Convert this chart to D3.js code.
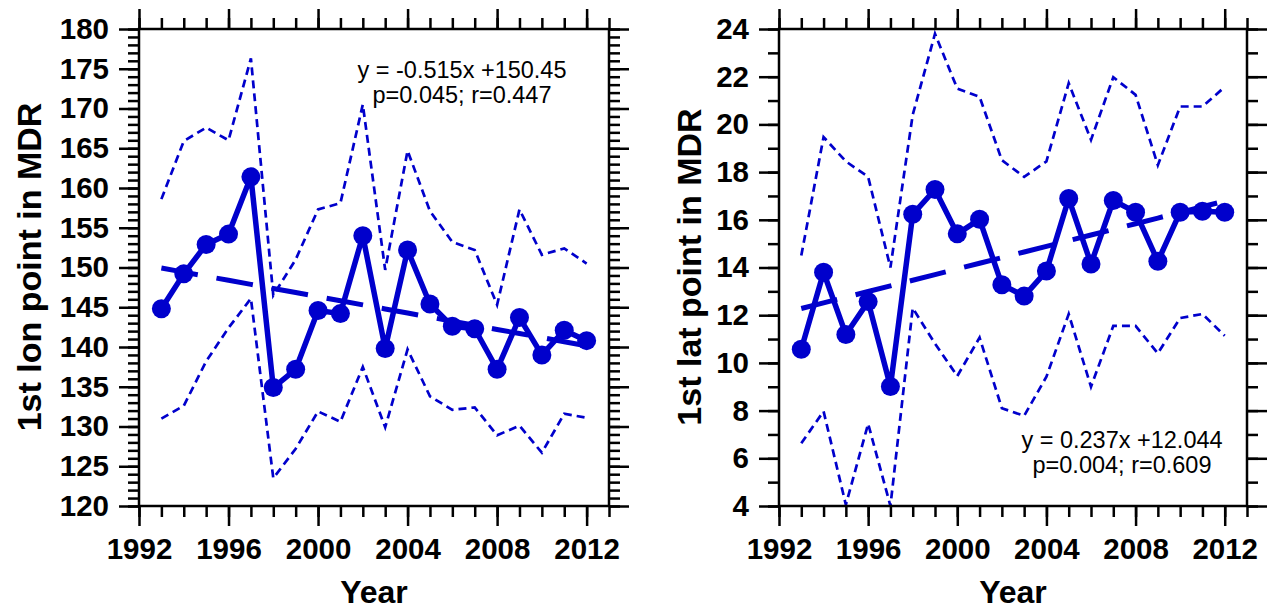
<!DOCTYPE html>
<html>
<head>
<meta charset="utf-8">
<title>1st point in MDR</title>
<style>
  body { margin: 0; background: #fff; }
  svg { display: block; font-family: "Liberation Sans", Arial, Helvetica, sans-serif; }
</style>
</head>
<body>
<svg width="1276" height="613"></svg>
<script src="https://cdnjs.cloudflare.com/ajax/libs/d3/7.8.5/d3.min.js"></script>
<script>
// years 1993-2012
var years = d3.range(1993, 2013);

// left panel: first longitude point
var lonMean  = [144.8, 149.2, 152.9, 154.2, 161.4, 134.9, 137.2, 144.6, 144.2, 154.0,
                139.8, 152.2, 145.4, 142.6, 142.3, 137.2, 143.7, 139.0, 142.1, 140.8];
var lonUpper = [158.6, 165.9, 167.6, 166.0, 176.3, 146.5, 151.0, 157.3, 158.1, 170.5,
                149.7, 164.7, 157.1, 153.2, 152.2, 145.3, 157.3, 151.6, 152.4, 150.5];
var lonLower = [131.0, 132.6, 138.2, 142.4, 146.1, 123.5, 127.2, 131.9, 130.6, 137.5,
                129.9, 139.7, 133.8, 132.1, 132.4, 128.9, 130.1, 126.7, 131.6, 131.1];
var lonFit = { slope: -0.515, intercept: 150.45 };
var lonText = ["y = -0.515x +150.45", "p=0.045; r=0.447"];

// right panel: first latitude point
var latMean  = [10.57, 13.8, 11.19, 12.57, 9.01, 16.23, 17.27, 15.41, 16.02, 13.28,
                12.8, 13.85, 16.89, 14.15, 16.81, 16.32, 14.26, 16.32, 16.36, 16.32];
var latUpper = [14.5, 19.47, 18.45, 17.8, 14.0, 20.4, 23.8, 21.5, 21.16, 18.5,
                17.8, 18.45, 21.73, 19.35, 21.98, 21.24, 18.29, 20.75, 20.75, 21.57];
var latLower = [6.63, 7.97, 4.05, 7.45, 4.0, 12.3, 10.81, 9.45, 11.06, 8.1,
                7.78, 9.42, 12.05, 9.0, 11.55, 11.55, 10.4, 11.88, 12.05, 11.14];
var latFit = { slope: 0.237, intercept: 12.044 };
var latText = ["y = 0.237x +12.044", "p=0.004; r=0.609"];

var xTicks = [1992, 1996, 2000, 2004, 2008, 2012];

var blue = "#0000cc";
var svg = d3.select("svg");

function panel(opt) {
  var x = d3.scaleLinear().domain([1992, 2013]).range([opt.left, opt.right]);
  var y = d3.scaleLinear().domain(opt.yDomain).range([opt.bottom, opt.top]);
  var g = svg.append("g");

  var minorX = d3.range(1992, 2014);
  var minorY = d3.range(opt.yDomain[0], opt.yDomain[1] + 1, opt.yMinor);

  function styleAxis(sel) {
    sel.select(".domain").remove();
    sel.selectAll(".tick line").attr("stroke", "#000").attr("stroke-width", 2.5);
    sel.selectAll(".tick text")
      .attr("fill", "#000")
      .style("font-size", "29.5px")
      .style("font-weight", "bold");
  }

  // minor ticks, four sides
  g.append("g").attr("transform", "translate(0," + opt.bottom + ")")
    .call(d3.axisBottom(x).tickValues(minorX).tickSize(11).tickFormat("")).call(styleAxis);
  g.append("g").attr("transform", "translate(0," + opt.top + ")")
    .call(d3.axisTop(x).tickValues(minorX).tickSize(11).tickFormat("")).call(styleAxis);
  g.append("g").attr("transform", "translate(" + opt.left + ",0)")
    .call(d3.axisLeft(y).tickValues(minorY).tickSize(11).tickFormat("")).call(styleAxis);
  g.append("g").attr("transform", "translate(" + opt.right + ",0)")
    .call(d3.axisRight(y).tickValues(minorY).tickSize(11).tickFormat("")).call(styleAxis);

  // major ticks
  g.append("g").attr("transform", "translate(0," + opt.bottom + ")")
    .call(d3.axisBottom(x).tickValues(xTicks).tickSize(20).tickPadding(12).tickFormat(d3.format("d")))
    .call(styleAxis);
  g.append("g").attr("transform", "translate(0," + opt.top + ")")
    .call(d3.axisTop(x).tickValues(xTicks).tickSize(20).tickFormat("")).call(styleAxis);
  g.append("g").attr("transform", "translate(" + opt.left + ",0)")
    .call(d3.axisLeft(y).tickValues(opt.yTicks).tickSize(20).tickPadding(10).tickFormat(d3.format("d")))
    .call(styleAxis);
  g.append("g").attr("transform", "translate(" + opt.right + ",0)")
    .call(d3.axisRight(y).tickValues(opt.yTicks).tickSize(20).tickFormat("")).call(styleAxis);

  // clip so dashed envelope stays in the box
  var clipId = "clip" + opt.left;
  g.append("clipPath").attr("id", clipId).append("rect")
    .attr("x", opt.left).attr("y", opt.top)
    .attr("width", opt.right - opt.left).attr("height", opt.bottom - opt.top);

  var plot = g.append("g").attr("clip-path", "url(#" + clipId + ")");
  var line = d3.line().x(function(d, i) { return x(years[i]); }).y(function(d) { return y(d); });

  [opt.upper, opt.lower].forEach(function(s) {
    plot.append("path").datum(s)
      .attr("d", line)
      .attr("fill", "none")
      .attr("stroke", blue)
      .attr("stroke-width", 2.7)
      .attr("stroke-dasharray", "8,5");
  });

  // trend line, x counted 1..20
  var fit = years.map(function(yr, i) { return opt.fit.slope * (i + 1) + opt.fit.intercept; });
  plot.append("path").datum(fit)
    .attr("d", line)
    .attr("fill", "none")
    .attr("stroke", blue)
    .attr("stroke-width", 5)
    .attr("stroke-dasharray", "37,19");

  plot.append("path").datum(opt.mean)
    .attr("d", line)
    .attr("fill", "none")
    .attr("stroke", blue)
    .attr("stroke-width", 5.5)
    .attr("stroke-linejoin", "round");

  plot.selectAll("circle").data(opt.mean).enter().append("circle")
    .attr("cx", function(d, i) { return x(years[i]); })
    .attr("cy", function(d) { return y(d); })
    .attr("r", 9.5)
    .attr("fill", blue);

  // frame
  g.append("rect")
    .attr("x", opt.left).attr("y", opt.top)
    .attr("width", opt.right - opt.left).attr("height", opt.bottom - opt.top)
    .attr("fill", "none").attr("stroke", "#000").attr("stroke-width", 2.5);

  // regression text
  opt.text.forEach(function(t, i) {
    g.append("text")
      .attr("x", opt.textX).attr("y", opt.textY + i * 25)
      .attr("text-anchor", "middle")
      .style("font-size", "23.5px")
      .text(t);
  });

  g.append("text")
    .attr("x", (opt.left + opt.right) / 2).attr("y", 603)
    .attr("text-anchor", "middle")
    .style("font-size", "32px").style("font-weight", "bold")
    .text("Year");

  g.append("text")
    .attr("transform", "translate(" + opt.labelX + ",267) rotate(-90)")
    .attr("text-anchor", "middle")
    .style("font-size", "34px").style("font-weight", "bold")
    .text(opt.ylabel);
}

panel({
  left: 139, right: 609, top: 29, bottom: 506,
  yDomain: [120, 180], yTicks: d3.range(120, 181, 5), yMinor: 1,
  mean: lonMean, upper: lonUpper, lower: lonLower, fit: lonFit,
  text: lonText, textX: 462, textY: 78,
  labelX: 41, ylabel: "1st lon point in MDR"
});

panel({
  left: 779, right: 1247, top: 29, bottom: 506,
  yDomain: [4, 24], yTicks: d3.range(4, 25, 2), yMinor: 1,
  mean: latMean, upper: latUpper, lower: latLower, fit: latFit,
  text: latText, textX: 1122, textY: 448,
  labelX: 701, ylabel: "1st lat point in MDR"
});
</script>
</body>
</html>
